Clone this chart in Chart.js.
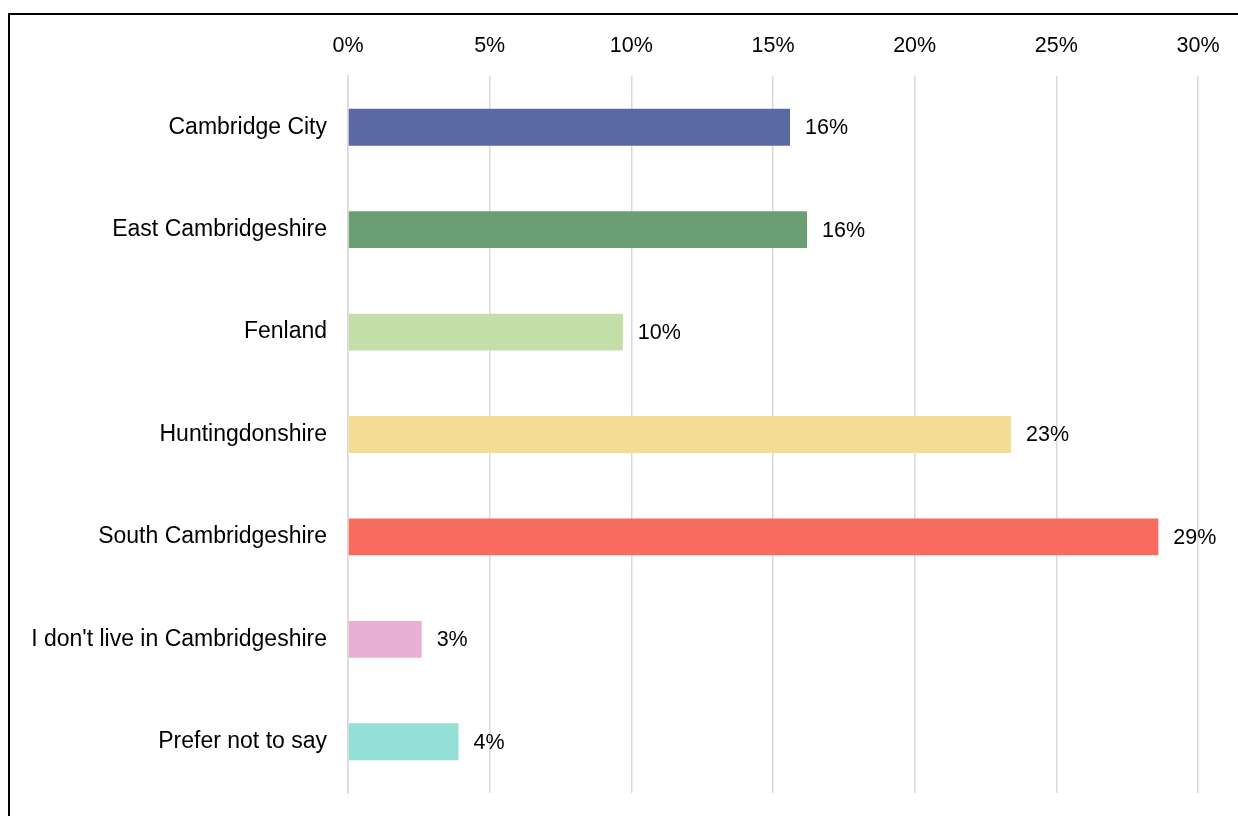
<!DOCTYPE html>
<html lang="en">
<head>
  <meta charset="UTF-8">
  <title>Where respondents live</title>
  <script src="https://cdn.jsdelivr.net/npm/chart.js"></script>
  <style>
    html, body { margin: 0; padding: 0; background: #fff; overflow: hidden; }
    #frame {
      position: absolute; left: 8px; top: 13px;
      width: 1400px; height: 1000px;
      border: 2px solid #000; box-sizing: border-box;
    }
    #areaChart { position: absolute; left: 0; top: 0; }
  </style>
</head>
<body>
  <div id="frame"></div>
  <canvas id="areaChart" width="1238" height="816"></canvas>

  <script>
    const areas = [
      'Cambridge City',
      'East Cambridgeshire',
      'Fenland',
      'Huntingdonshire',
      'South Cambridgeshire',
      "I don't live in Cambridgeshire",
      'Prefer not to say'
    ];
    const shares = [15.6, 16.2, 9.7, 23.4, 28.6, 2.6, 3.9];
    const barColours = ['#5A69A2', '#6B9F73', '#C4DEA9', '#F3DD92', '#F86C5F', '#E8B0D2', '#93DFD6'];
    const tickSteps = [0, 5, 10, 15, 20, 25, 30];

    // value labels just past the end of each bar
    const valueLabels = {
      id: 'valueLabels',
      afterDatasetsDraw(chart) {
        const ctx = chart.ctx;
        const meta = chart.getDatasetMeta(0);
        ctx.save();
        ctx.font = '21.5px "Liberation Sans", Arial, sans-serif';
        ctx.fillStyle = '#000';
        ctx.textAlign = 'left';
        ctx.textBaseline = 'middle';
        meta.data.forEach((bar, i) => {
          ctx.fillText(Math.round(shares[i]) + '%', bar.x + 15, bar.y + 1);
        });
        ctx.restore();
      }
    };

    new Chart(document.getElementById('areaChart'), {
      type: 'bar',
      data: {
        labels: areas,
        datasets: [{
          data: shares,
          backgroundColor: barColours,
          borderWidth: 0,
          categoryPercentage: 1,
          barPercentage: 0.36
        }]
      },
      options: {
        indexAxis: 'y',
        responsive: false,
        animation: false,
        layout: { padding: { left: 0, top: 0, right: 40, bottom: 23 } },
        plugins: {
          legend: { display: false },
          tooltip: { enabled: false }
        },
        scales: {
          x: {
            position: 'top',
            min: 0,
            max: 30,
            afterBuildTicks(scale) {
              scale.ticks = tickSteps.map(v => ({ value: v }));
            },
            afterFit(scale) { scale.height = 76; },
            grid: { color: '#d9d9d9', lineWidth: 1.5, drawTicks: false },
            border: { display: false },
            ticks: {
              padding: 17,
              color: '#000',
              font: { family: '"Liberation Sans", Arial, sans-serif', size: 21.5 },
              callback: v => v + '%'
            }
          },
          y: {
            afterFit(scale) {
              scale.width = 348;
              // let the plot run right down to the layout padding
              scale.paddingTop = 0;
              scale.paddingBottom = 0;
            },
            grid: { display: false },
            border: { color: '#d9d9d9', width: 1.5 },
            ticks: {
              padding: 13,
              color: '#000',
              font: { family: '"Liberation Sans", Arial, sans-serif', size: 23 }
            }
          }
        }
      },
      plugins: [valueLabels]
    });
  </script>
</body>
</html>
